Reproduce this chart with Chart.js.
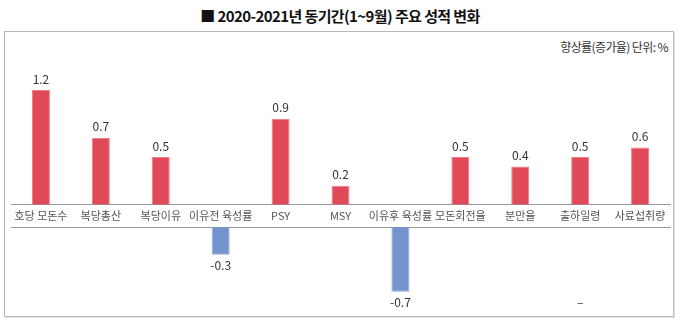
<!DOCTYPE html>
<html>
<head>
<meta charset="utf-8">
<script src="https://cdn.jsdelivr.net/npm/chart.js@4.4.1/dist/chart.umd.min.js"></script>
<style>
    body { margin: 0; background: #fff; width: 680px; height: 330px; position: relative; overflow: hidden; font-family: 'Noto Sans CJK KR', sans-serif; }
    #title { position: absolute; left: 0; top: 5px; width: 680px; text-align: center; font-size: 15px; font-weight: bold; color: #111; letter-spacing: -0.6px; }
    #frame { position: absolute; left: 4px; top: 31px; width: 668px; height: 284px; border: 1px solid #b8b8b8; box-shadow: 1px 1px 0 #e2e2e2; }
    #unit { position: absolute; right: 12px; top: 38px; font-size: 12px; color: #333; letter-spacing: -0.6px; }
    #topWrap { position: absolute; left: 0; top: 60px; width: 680px; height: 166px; }
    #bottomWrap { position: absolute; left: 0; top: 225px; width: 680px; height: 90px; }
</style>
</head>
<body>
<div id="title">■ 2020-2021년 동기간(1~9월) 주요 성적 변화</div>
<div id="frame"></div>
<div id="unit">향상률(증가율) 단위: %</div>
<div id="topWrap"><canvas id="topChart"></canvas></div>
<div id="bottomWrap"><canvas id="bottomChart"></canvas></div>
<script>
const categories = ['호당 모돈수', '복당총산', '복당이유', '이유전 육성률', 'PSY', 'MSY', '이유후 육성률', '모돈회전율', '분만율', '출하일령', '사료섭취량'];
const changes = [1.2, 0.7, 0.5, -0.3, 0.9, 0.2, -0.7, 0.5, 0.4, 0.5, 0.6];
const belowNotes = ['', '', '', '', '', '', '', '', '', '–', ''];

const RED = '#e04a58';
const BLUE = '#7393cf';
const FONT = "'Noto Sans CJK KR', sans-serif";

const ups = changes.map(v => v > 0 ? v : null);
const downs = changes.map(v => v < 0 ? v : null);

// value labels above positive bars, below negative ones
const valueLabels = {
    id: 'valueLabels',
    afterDatasetsDraw(chart, args, opts) {
        const { ctx, scales } = chart;
        const data = chart.data.datasets[0].data;
        ctx.save();
        ctx.font = '12px ' + FONT;
        ctx.fillStyle = '#333';
        ctx.textAlign = 'center';
        data.forEach((v, i) => {
            const x = scales.x.getPixelForValue(i);
            if (v != null) {
                const y = scales.y.getPixelForValue(v);
                if (v > 0) { ctx.textBaseline = 'bottom'; ctx.fillText(v.toString(), x, y - 5); }
                else { ctx.textBaseline = 'top'; ctx.fillText(v.toString(), x, y + 5); }
            }
            if (opts.notes && opts.notes[i]) {
                ctx.textBaseline = 'top';
                ctx.fillText(opts.notes[i], x, scales.y.getPixelForValue(-0.7) + 5);
            }
        });
        ctx.restore();
    }
};

const dotted = { display: true, color: '#999', dash: [2, 2], width: 1 };

new Chart(document.getElementById('topChart'), {
    type: 'bar',
    data: { labels: categories, datasets: [{ data: ups, backgroundColor: RED, borderColor: '#ee7d88', borderWidth: 1, barPercentage: 0.6, categoryPercentage: 0.5 }] },
    options: {
        responsive: true, maintainAspectRatio: false, animation: false,
        layout: { padding: { top: 11, left: 11, right: 10, bottom: 0 } },
        plugins: { legend: { display: false }, tooltip: { enabled: false }, valueLabels: {} },
        scales: {
            x: { grid: { display: false, drawTicks: false }, border: dotted, ticks: { color: '#555', padding: 4, autoSkip: false, maxRotation: 0, minRotation: 0, font: { family: FONT, size: 11 } } },
            y: { display: false, min: 0, max: 1.4 }
        }
    },
    plugins: [valueLabels]
});

new Chart(document.getElementById('bottomChart'), {
    type: 'bar',
    data: { labels: categories, datasets: [{ data: downs, backgroundColor: BLUE, borderColor: '#8aa6da', borderWidth: 1, barPercentage: 0.6, categoryPercentage: 0.5 }] },
    options: {
        responsive: true, maintainAspectRatio: false, animation: false,
        layout: { padding: { top: 2, left: 11, right: 10, bottom: 14 } },
        plugins: { legend: { display: false }, tooltip: { enabled: false }, valueLabels: { notes: belowNotes } },
        scales: {
            x: { position: 'top', grid: { display: false, drawTicks: false }, border: dotted, ticks: { display: false } },
            y: { display: false, min: -0.8, max: 0 }
        }
    },
    plugins: [valueLabels]
});
</script>
</body>
</html>
